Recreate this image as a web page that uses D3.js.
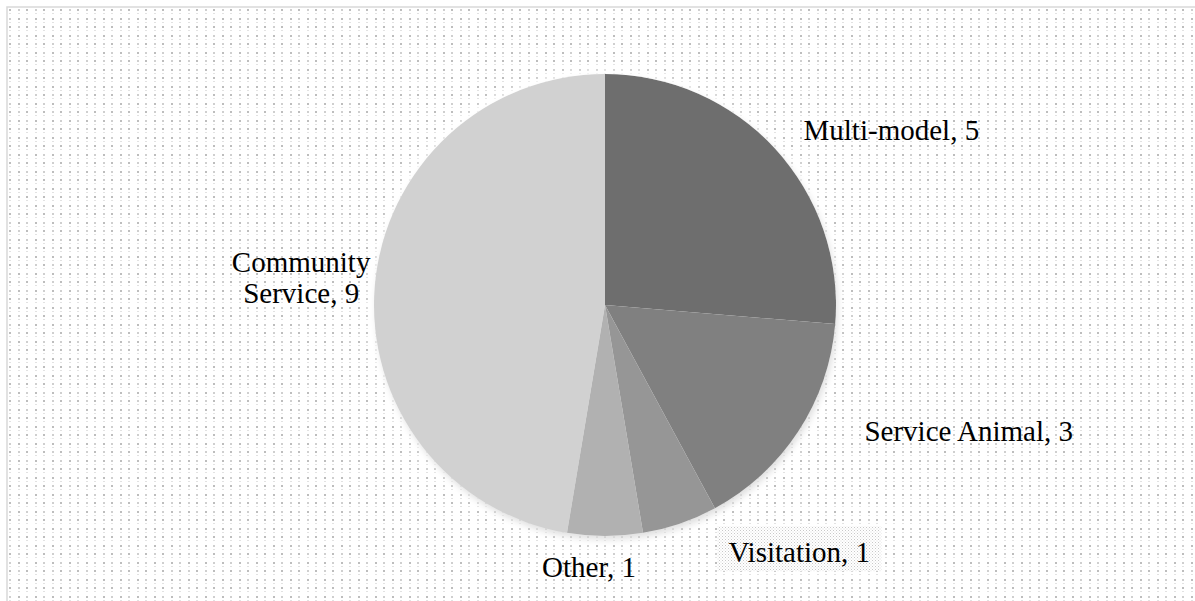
<!DOCTYPE html>
<html>
<head>
<meta charset="utf-8">
<script src="https://cdn.jsdelivr.net/npm/d3@7"></script>
<style>
  html, body { margin: 0; padding: 0; background: #ffffff; }
  svg { display: block; }
  text { font-family: "Liberation Serif", "Times New Roman", serif; fill: #000; }
</style>
</head>
<body>
<svg id="chart" width="1195" height="601"></svg>
<script>
// ---- data ----
const categories = ["Multi-model", "Service Animal", "Visitation", "Other", "Community Service"];
const values = [5, 3, 1, 1, 9];
const labelLines = [["Multi-model, 5"], ["Service Animal, 3"], ["Visitation, 1"], ["Other, 1"], ["Community", "Service, 9"]];
const sliceColors = ["#6e6e6e", "#808080", "#969696", "#b1b1b1", "#d1d1d1"];

// ---- layout ----
const W = 1195, H = 601;
const cx = 605, cy = 305, R = 231;
const fontSize = 29, lineH = 31;
// label anchor: point at radius factor along the slice mid-angle, plus pixel nudge
const labelLayout = [
  { rf: 1.12, dx: 96, dy: 0 },
  { rf: 1.25, dx: 122, dy: -32 },
  { rf: 1.15, dx: 108, dy: -4 },
  { rf: 1.12, dx: -16, dy: 3 },
  { rf: 1.22, dx: -23, dy: -4 }
];

const svg = d3.select("#chart");
const defs = svg.append("defs");

// background dotted pattern
const P = 17;
const pat = defs.append("pattern").attr("id", "dots").attr("patternUnits", "userSpaceOnUse")
  .attr("width", P).attr("height", P);
pat.append("rect").attr("width", P).attr("height", P).attr("fill", "#ffffff");
[[1, 1, "#bdbdbd"], [9, 1, "#cfcfcf"], [1, 9, "#cfcfcf"], [9, 9, "#bdbdbd"]].forEach(([x, y, c]) =>
  pat.append("rect").attr("x", x).attr("y", y).attr("width", 2).attr("height", 2).attr("fill", c));
[[1, 5], [9, 5], [1, 13], [9, 13]].forEach(([x, y]) =>
  pat.append("rect").attr("x", x).attr("y", y).attr("width", 2).attr("height", 1).attr("fill", "#e2e2e2"));

// finer pattern for the Visitation label box
const pat2 = defs.append("pattern").attr("id", "fineDots").attr("patternUnits", "userSpaceOnUse")
  .attr("width", 3).attr("height", 3);
pat2.append("rect").attr("width", 3).attr("height", 3).attr("fill", "#ffffff");
pat2.append("rect").attr("x", 0).attr("y", 0).attr("width", 1).attr("height", 1).attr("fill", "#c8c8c8");
pat2.append("rect").attr("x", 1.5).attr("y", 1.5).attr("width", 1).attr("height", 1).attr("fill", "#dadada");

// soft glow + shadow
const f = defs.append("filter").attr("id", "soft").attr("x", "-20%").attr("y", "-20%").attr("width", "140%").attr("height", "140%");
f.append("feGaussianBlur").attr("in", "SourceAlpha").attr("stdDeviation", 6).attr("result", "blurW");
f.append("feFlood").attr("flood-color", "#ffffff").attr("flood-opacity", 1).attr("result", "white");
f.append("feComposite").attr("in", "white").attr("in2", "blurW").attr("operator", "in").attr("result", "glow");
f.append("feGaussianBlur").attr("in", "SourceAlpha").attr("stdDeviation", 3).attr("result", "blurS");
f.append("feOffset").attr("in", "blurS").attr("dx", 2).attr("dy", 4).attr("result", "offS");
f.append("feFlood").attr("flood-color", "#000000").attr("flood-opacity", 0.25).attr("result", "grey");
f.append("feComposite").attr("in", "grey").attr("in2", "offS").attr("operator", "in").attr("result", "shadow");
const fm = f.append("feMerge");
fm.append("feMergeNode").attr("in", "glow");
fm.append("feMergeNode").attr("in", "glow");
fm.append("feMergeNode").attr("in", "shadow");
fm.append("feMergeNode").attr("in", "SourceGraphic");

// background & border
svg.append("rect").attr("width", W).attr("height", H).attr("fill", "#ffffff");
svg.append("rect").attr("x", 7).attr("y", 7).attr("width", W + 10).attr("height", H + 10)
  .attr("fill", "url(#dots)").attr("stroke", "#d9d9d9").attr("stroke-width", 1.5);

// pie
const pie = d3.pie().sort(null).value(d => d.v).startAngle(0).endAngle(2 * Math.PI);
const arcs = pie(categories.map((c, i) => ({ c, v: values[i], i })));
const arc = d3.arc().innerRadius(0).outerRadius(R);
const color = d3.scaleOrdinal().domain(categories).range(sliceColors);

const g = svg.append("g").attr("transform", `translate(${cx},${cy})`);
const pieG = g.append("g").attr("filter", "url(#soft)");
pieG.selectAll("path").data(arcs).join("path")
  .attr("d", arc)
  .attr("fill", d => color(d.data.c));

// labels
const lg = g.append("g");
arcs.forEach((d, i) => {
  const L = labelLayout[i];
  const mid = (d.startAngle + d.endAngle) / 2;
  const px = Math.sin(mid) * R * L.rf + L.dx;
  const py = -Math.cos(mid) * R * L.rf + L.dy;
  const lines = labelLines[i];
  if (d.data.c === "Visitation") {
    lg.append("rect").attr("x", px - 82).attr("y", py - 26).attr("width", 164).attr("height", 45)
      .attr("fill", "url(#fineDots)");
  }
  const t = lg.append("text").attr("text-anchor", "middle").attr("font-size", fontSize)
    .attr("x", px).attr("y", py - (lines.length - 1) * lineH / 2);
  lines.forEach((ln, k) => {
    t.append("tspan").attr("x", px).attr("dy", k === 0 ? "0.35em" : lineH).text(ln);
  });
});
</script>
</body>
</html>
